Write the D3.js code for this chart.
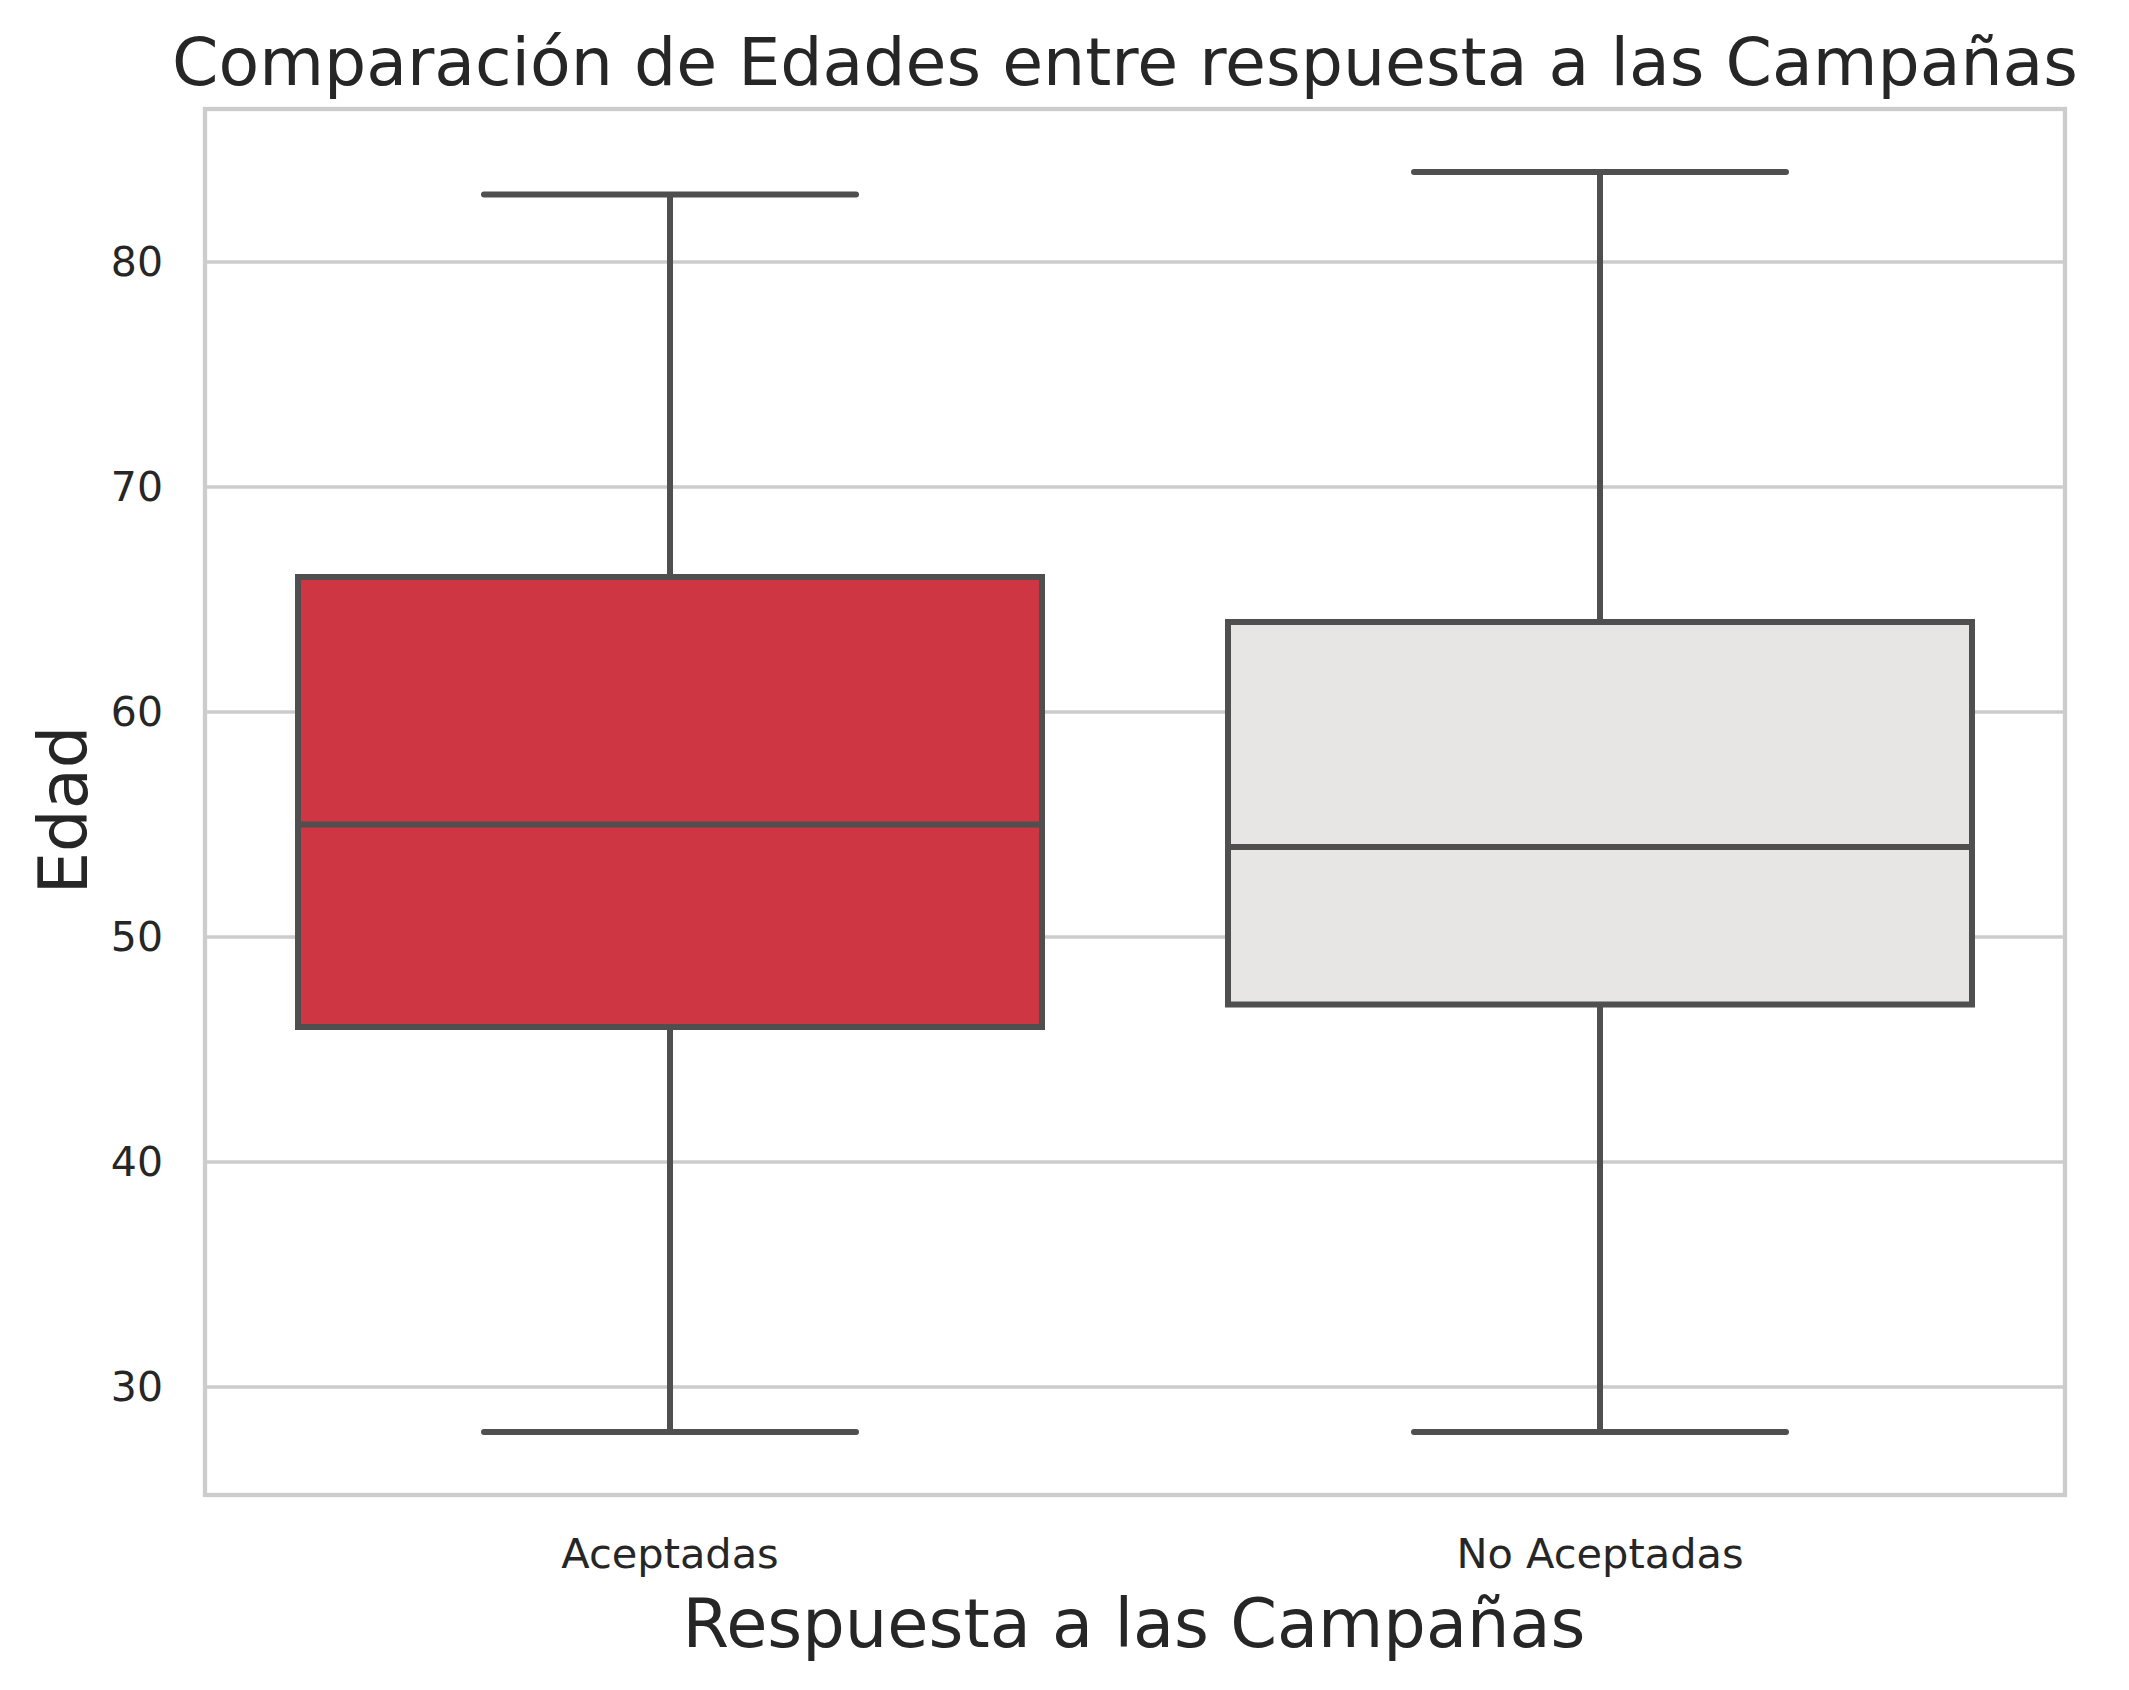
<!DOCTYPE html>
<html><head><meta charset="utf-8">
<script src="https://cdn.jsdelivr.net/npm/d3@7"></script>
<style>body{margin:0;background:#fff}svg{display:block}text{font-family:"DejaVu Sans",sans-serif;fill:#262626}</style>
</head><body>
<script>
const categories = ["Aceptadas", "No Aceptadas"];
const mins = [28, 28];
const q1s = [46, 47];
const medians = [55, 54];
const q3s = [66, 64];
const maxs = [83, 84];
const boxColors = ["#cf3643", "#e7e6e4"];
const yTicks = [30, 40, 50, 60, 70, 80];
const title = "Comparación de Edades entre respuesta a las Campañas";
const xLabel = "Respuesta a las Campañas";
const yLabel = "Edad";

const W = 2129, H = 1690;
const L = 205, R = 2065, T = 109, B = 1495;
const svg = d3.select("body").append("svg").attr("width", W).attr("height", H);

const y = d3.scaleLinear().domain([25.2, 86.8]).range([B, T]);
const x = d3.scaleBand().domain(categories).range([L, R]).padding(0);
const bw = x.bandwidth();
const cx = c => x(c) + bw / 2;

// grid
svg.append("g").selectAll("line").data(yTicks).join("line")
  .attr("x1", L).attr("x2", R).attr("y1", d => y(d)).attr("y2", d => y(d))
  .attr("stroke", "#cccccc").attr("stroke-width", 3.5);

const line = "#4f4f4f", lw = 6;
const data = categories.map((c, i) => ({c, min: mins[i], q1: q1s[i], med: medians[i], q3: q3s[i], max: maxs[i], col: boxColors[i]}));
const g = svg.append("g");
data.forEach(d => {
  const xc = cx(d.c);
  g.append("line").attr("x1", xc).attr("x2", xc).attr("y1", y(d.q1)).attr("y2", y(d.min)).attr("stroke", line).attr("stroke-width", lw);
  g.append("line").attr("x1", xc).attr("x2", xc).attr("y1", y(d.q3)).attr("y2", y(d.max)).attr("stroke", line).attr("stroke-width", lw);
  [d.min, d.max].forEach(v => {
    g.append("line").attr("x1", xc - bw * 0.2).attr("x2", xc + bw * 0.2).attr("y1", y(v)).attr("y2", y(v))
      .attr("stroke", line).attr("stroke-width", lw).attr("stroke-linecap", "round");
  });
  g.append("rect").attr("x", xc - bw * 0.4).attr("width", bw * 0.8)
    .attr("y", y(d.q3)).attr("height", y(d.q1) - y(d.q3))
    .attr("fill", d.col).attr("stroke", line).attr("stroke-width", lw);
  g.append("line").attr("x1", xc - bw * 0.4).attr("x2", xc + bw * 0.4).attr("y1", y(d.med)).attr("y2", y(d.med))
    .attr("stroke", line).attr("stroke-width", lw);
});

// spines
svg.append("rect").attr("x", L).attr("y", T).attr("width", R - L).attr("height", B - T)
  .attr("fill", "none").attr("stroke", "#cccccc").attr("stroke-width", 4.3);

// y axis tick labels
const yAxis = d3.axisLeft(y).tickValues(yTicks).tickSize(0).tickPadding(42);
const ya = svg.append("g").attr("transform", `translate(${L},0)`).call(yAxis);
ya.select(".domain").remove();
ya.selectAll("text").attr("font-size", 41).attr("fill", "#262626").attr("font-family", "DejaVu Sans");

// x axis tick labels
const xAxis = d3.axisBottom(x).tickSize(0).tickPadding(0);
const xa = svg.append("g").attr("transform", `translate(0,${B})`).call(xAxis);
xa.select(".domain").remove();
xa.selectAll("text").attr("font-size", 41.5).attr("fill", "#262626").attr("font-family", "DejaVu Sans")
  .attr("dy", null).attr("y", 73);

// labels
svg.append("text").attr("x", 1125).attr("y", 85).attr("text-anchor", "middle").attr("font-size", 66.5).text(title);
svg.append("text").attr("x", 1134).attr("y", 1647).attr("text-anchor", "middle").attr("font-size", 67).text(xLabel);
svg.append("text").attr("transform", `translate(87,810) rotate(-90)`).attr("text-anchor", "middle").attr("font-size", 67).text(yLabel);
</script>
</body></html>
